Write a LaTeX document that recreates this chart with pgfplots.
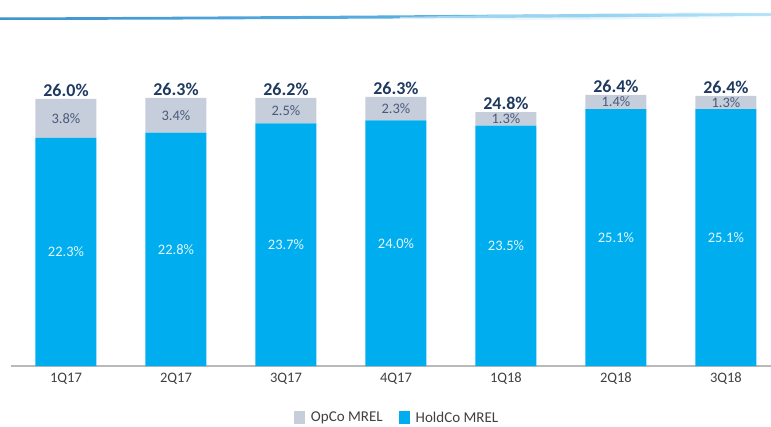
\documentclass[border=0pt]{standalone}
\usepackage{fontspec}
\setmainfont{Carlito}
\usepackage{pgfplots}
\usepackage{pgfplotstable}
\pgfplotsset{compat=1.18}
\definecolor{holdco}{HTML}{00AEEF}
\definecolor{opco}{HTML}{C6CDDB}
\definecolor{navy}{HTML}{1F3A60}
\definecolor{opcotxt}{HTML}{4A5B7A}
\definecolor{ticktxt}{HTML}{404040}
\definecolor{sw1}{HTML}{3F93D0}
\definecolor{sw2}{HTML}{6FC8F0}
\pgfplotstableread{
x h o t
0 22.3 3.8 26.0
1 22.8 3.4 26.3
2 23.7 2.5 26.2
3 24.0 2.3 26.3
4 23.5 1.3 24.8
5 25.1 1.4 26.4
6 25.1 1.3 26.4
}\mreldata
\begin{document}
\begin{tikzpicture}[x=1pt,y=1pt]
\useasboundingbox (0,0) rectangle (771,426);
% decorative header line
\shade[left color=sw1, right color=sw2] (0,406) -- (0,408.5) .. controls (300,409.5) and (550,412) .. (771,413) -- (771,410) .. controls (550,408.5) and (300,406.5) .. (0,406) -- cycle;
\shade[left color=white, right color=white, middle color=sw2!40, opacity=0.5] (400,409) .. controls (550,412) .. (771,415) -- (771,408) .. controls (550,406) .. (400,406.5) -- cycle;
\pgfplotsset{myaxis/.style={
  scale only axis, width=760pt, height=307pt,
  at={(11pt,60pt)}, anchor=south west,
  xmin=-0.5, xmax=6.41, ymin=0, ymax=30,
  /pgf/number format/assume math mode=true,
}}
\begin{axis}[myaxis,
  ybar stacked, bar width=61pt,
  axis x line=bottom, axis y line=none,
  x axis line style={-, draw=gray!55, line width=1.2pt},
  xtick={0,1,2,3,4,5,6},
  xticklabels={1Q17,2Q17,3Q17,4Q17,1Q18,2Q18,3Q18},
  xtick style={draw=none},
  ytick=\empty,
  xticklabel style={font=\fontsize{14.5}{16}\selectfont, text=ticktxt, yshift=-1pt},
  clip=false,
  reverse legend,
  legend columns=-1,
  legend style={at={(0.508,-0.168)}, anchor=center, draw=none, fill=none,
    font=\fontsize{15}{17}\selectfont, text=ticktxt,
    /tikz/every odd column/.append style={column sep=4pt},
    /tikz/every even column/.append style={column sep=14pt}},
  legend image code/.code={\fill[#1] (0pt,-6.5pt) rectangle (11pt,6.5pt);},
]
\addplot[fill=holdco, draw=none] table[x=x, y=h] {\mreldata};
\addlegendentry{HoldCo MREL}
\addplot[fill=opco, draw=none] table[x=x, y=o] {\mreldata};
\addlegendentry{OpCo MREL}
\end{axis}
\begin{axis}[myaxis, hide axis, clip=false]
\addplot[draw=none, mark=none, point meta=explicit,
  nodes near coords={\pgfmathprintnumber[fixed,fixed zerofill,precision=1]{\pgfplotspointmeta}\%},
  every node near coord/.append style={anchor=center, font=\fontsize{14.5}{16}\selectfont, text=white!90!holdco}
  ] table[x=x, y expr=\thisrow{h}/2, meta=h] {\mreldata};
\addplot[draw=none, mark=none, point meta=explicit,
  nodes near coords={\pgfmathprintnumber[fixed,fixed zerofill,precision=1]{\pgfplotspointmeta}\%},
  every node near coord/.append style={anchor=center, font=\fontsize{14.5}{16}\selectfont, text=opcotxt}
  ] table[x=x, y expr=\thisrow{h}+\thisrow{o}/2, meta=o] {\mreldata};
\addplot[draw=none, mark=none, point meta=explicit,
  nodes near coords={\pgfmathprintnumber[fixed,fixed zerofill,precision=1]{\pgfplotspointmeta}\%},
  every node near coord/.append style={anchor=south, inner sep=2pt, font=\bfseries\fontsize{18}{20}\selectfont, text=navy}
  ] table[x=x, y expr=\thisrow{h}+\thisrow{o}, meta=t] {\mreldata};
\end{axis}
\end{tikzpicture}
\end{document}
